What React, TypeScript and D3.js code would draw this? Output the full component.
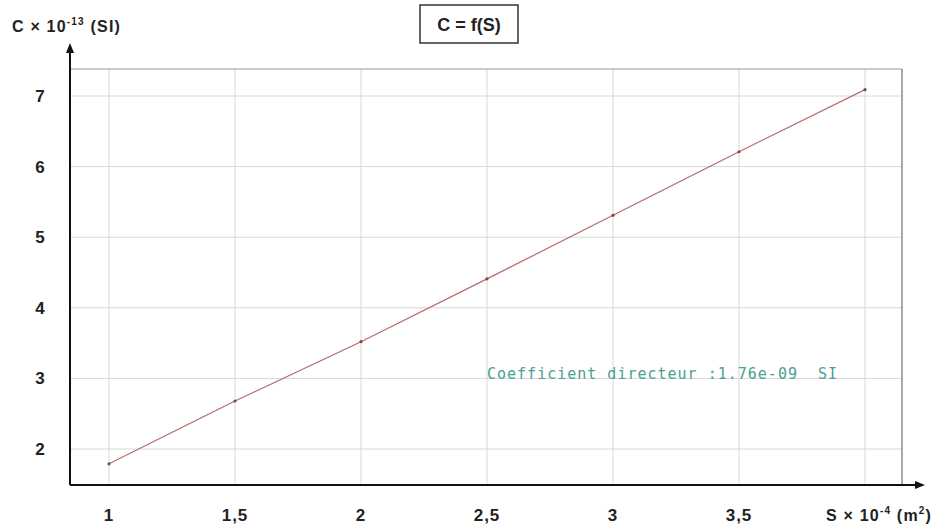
// C = f(S) line chart, drawn with D3 scales into JSX
import React from 'react';
import * as d3 from 'd3';

const S_VALUES = [1, 1.5, 2, 2.5, 3, 3.5, 4];
const C_VALUES = [1.79, 2.68, 3.52, 4.41, 5.31, 6.21, 7.09];
const X_TICKS = [1, 1.5, 2, 2.5, 3, 3.5, 4];
const Y_TICKS = [2, 3, 4, 5, 6, 7];
const SLOPE_LABEL = 'Coefficient directeur :1.76e-09  SI';

const W = 952;
const H = 525;

const x = d3.scaleLinear().domain([1, 4]).range([109, 865]);
const y = d3.scaleLinear().domain([2, 7]).range([449, 96]);

const AXIS_X = 70;
const AXIS_Y = 485;
const TOP = 69;
const RIGHT = 902;

const fmt = (v: number) => String(v).replace('.', ',');

export default function App() {
  const line = d3.line<number>()
    .x((_, i) => x(S_VALUES[i]))
    .y(d => y(d));

  const boldFont = 'Arial, "Liberation Sans", sans-serif';

  return (
    <svg width={W} height={H} style={{ position: 'absolute', left: 0, top: 0, background: '#fff' }}>
      {/* grid */}
      {X_TICKS.map(t => (
        <line key={'gx' + t} x1={x(t)} x2={x(t)} y1={TOP} y2={AXIS_Y} stroke="#d8d8d8" strokeWidth={1} />
      ))}
      {Y_TICKS.map(t => (
        <line key={'gy' + t} x1={AXIS_X} x2={RIGHT} y1={y(t)} y2={y(t)} stroke="#d8d8d8" strokeWidth={1} />
      ))}
      <line x1={AXIS_X} x2={RIGHT} y1={TOP} y2={TOP} stroke="#9a9a9a" strokeWidth={1.2} />
      <line x1={RIGHT} x2={RIGHT} y1={TOP} y2={AXIS_Y} stroke="#555" strokeWidth={1} />

      {/* axes with arrows */}
      <line x1={AXIS_X} x2={AXIS_X} y1={AXIS_Y} y2={50} stroke="#111" strokeWidth={2} />
      <path d={`M${AXIS_X - 4},${53} L${AXIS_X},${43} L${AXIS_X + 4},${53} Z`} fill="#111" />
      <line x1={AXIS_X} x2={918} y1={AXIS_Y} y2={AXIS_Y} stroke="#111" strokeWidth={2} />
      <path d={`M${915},${AXIS_Y - 4} L${925},${AXIS_Y} L${915},${AXIS_Y + 4} Z`} fill="#111" />

      {/* data line */}
      <path d={line(C_VALUES) || ''} fill="none" stroke="#b86a6a" strokeWidth={1.2} />
      {C_VALUES.map((c, i) => (
        <circle key={'p' + i} cx={x(S_VALUES[i])} cy={y(c)} r={1.6} fill="#7a4a4a" />
      ))}

      {/* tick labels */}
      {X_TICKS.slice(0, 6).map(t => (
        <text key={'tx' + t} x={x(t)} y={521} textAnchor="middle" fontFamily={boldFont}
          fontWeight="bold" fontSize={17} letterSpacing={1} fill="#222">{fmt(t)}</text>
      ))}
      {Y_TICKS.map(t => (
        <text key={'ty' + t} x={40} y={y(t) + 6} textAnchor="middle" fontFamily={boldFont}
          fontWeight="bold" fontSize={17} fill="#222">{t}</text>
      ))}

      {/* axis titles */}
      <text x={12} y={32} fontFamily={boldFont} fontWeight="bold" fontSize={16} letterSpacing={1.2} fill="#222">
        C × 10<tspan dy={-7} fontSize={10}>-13</tspan><tspan dy={7}> (SI)</tspan>
      </text>
      <text x={826} y={521} fontFamily={boldFont} fontWeight="bold" fontSize={16} letterSpacing={1.2} fill="#222">
        S × 10<tspan dy={-7} fontSize={10}>-4</tspan><tspan dy={7}> (m</tspan><tspan dy={-7} fontSize={10}>2</tspan><tspan dy={7}>)</tspan>
      </text>

      {/* title box */}
      <rect x={420} y={5} width={98} height={38} fill="#fff" stroke="#333" strokeWidth={1.5} />
      <text x={469} y={31} textAnchor="middle" fontFamily={boldFont} fontWeight="bold" fontSize={18} fill="#222">
        C = f(S)
      </text>

      {/* slope annotation */}
      <text x={487} y={379} fontFamily='"DejaVu Sans Mono", "Liberation Mono", monospace'
        fontSize={15} letterSpacing={1} fill="#4a9e92" style={{ whiteSpace: 'pre' }}>
        {SLOPE_LABEL}
      </text>
    </svg>
  );
}
